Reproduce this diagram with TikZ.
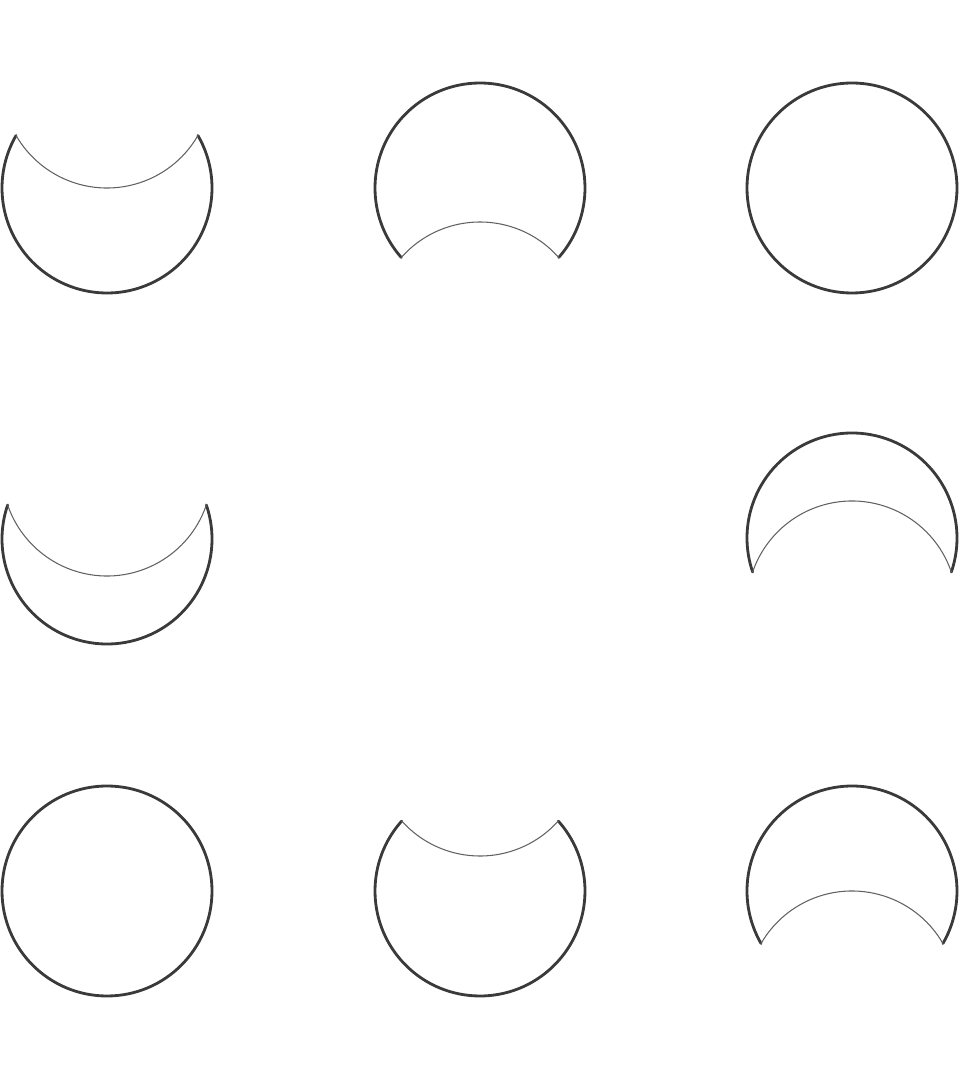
\documentclass[tikz,border=0pt]{standalone}
\usepackage{xcolor}
\usepackage{tikz}
\definecolor{moonink}{HTML}{3A3A3A}
\newcommand{\moontop}[3]{%
  \pgfmathsetmacro\cutang{asin(#3/210)}
  \draw[rim] (#1,#2) ++(\cutang:105) arc[start angle=\cutang,end angle=-180-\cutang,radius=105];
  \draw[seam] (#1,#2) ++(\cutang:105) arc[start angle=-\cutang,end angle=-180+\cutang,radius=105];
}
\newcommand{\moonbottom}[3]{%
  \pgfmathsetmacro\cutang{asin(#3/210)}
  \draw[rim] (#1,#2) ++(-\cutang:105) arc[start angle=-\cutang,end angle=180+\cutang,radius=105];
  \draw[seam] (#1,#2) ++(-\cutang:105) arc[start angle=\cutang,end angle=180-\cutang,radius=105];
}

\begin{document}
\begin{tikzpicture}[
  x=0.02cm,y=0.02cm,
  rim/.style={draw=moonink,line width=1.6pt,line cap=round,line join=round},
  seam/.style={draw=moonink!80,line width=0.6pt,line cap=round}
]
\useasboundingbox (0,0) rectangle (960,1080);
\moontop{107}{892}{105}
\moonbottom{480}{892}{139}
\draw[rim] (852,892) circle[radius=105];
\moontop{107}{541}{68}
\moonbottom{852}{542}{68}
\draw[rim] (107,189) circle[radius=105];
\moontop{480}{189}{140}
\moonbottom{852}{189}{105}
\end{tikzpicture}
\end{document}
